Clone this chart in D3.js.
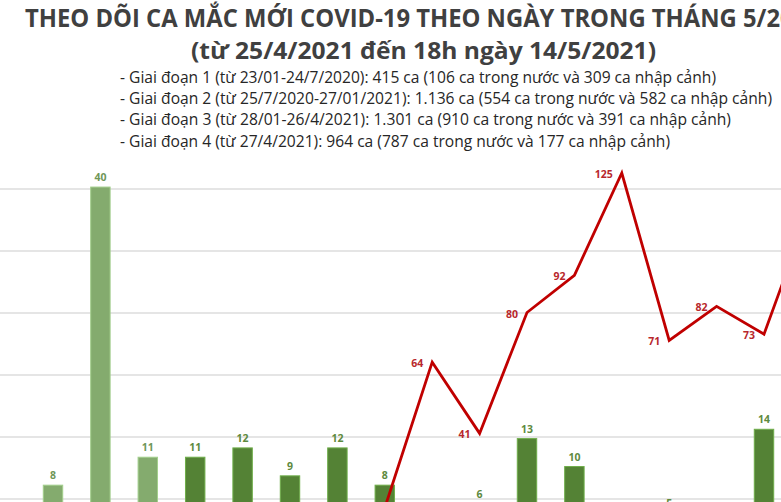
<!DOCTYPE html>
<html>
<head>
<meta charset="utf-8">
<script src="https://cdn.jsdelivr.net/npm/d3@7"></script>
<style>
html,body{margin:0;padding:0;background:#fff;overflow:hidden;}
svg{display:block;}
</style>
</head>
<body>
<svg id="chart" width="781" height="502"></svg>
<script>
// ---- data ----
const titleLines = ["THEO DÕI CA MẮC MỚI COVID-19 THEO NGÀY TRONG THÁNG 5/2021", "(từ 25/4/2021 đến 18h ngày 14/5/2021)"];
const legendLines = [
  "- Giai đoạn 1 (từ 23/01-24/7/2020): 415 ca (106 ca trong nước và 309 ca nhập cảnh)",
  "- Giai đoạn 2 (từ 25/7/2020-27/01/2021): 1.136 ca (554 ca trong nước và 582 ca nhập cảnh)",
  "- Giai đoạn 3 (từ 28/01-26/4/2021): 1.301 ca (910 ca trong nước và 391 ca nhập cảnh)",
  "- Giai đoạn 4 (từ 27/4/2021): 964 ca (787 ca trong nước và 177 ca nhập cảnh)"
];
const dates = ["27/4","28/4","29/4","30/4","1/5","2/5","3/5","4/5","5/5","6/5","7/5","8/5","9/5","10/5","11/5","12/5","13/5"];
// imported cases (bars)
const importedCases = [8, 40, 11, 11, 12, 9, 12, 8, 4, 6, 13, 10, 2, 5, 3, 14, null];
// domestic cases (line)
const domesticCases = [null, null, null, null, null, null, null, 17, 64, 41, 80, 92, 125, 71, 82, 73, 115];
const lightBarCount = 3;
const gridTicks = [0, 20, 40, 60, 80, 100, 120];

// ---- layout ----
const svg = d3.select("#chart");
const yZero = 560.5, yTop = 126.5;

const x = d3.scaleBand().domain(dates).range([29.3, 835.1]).paddingInner(0.59).paddingOuter(0.295);
const yLine = d3.scaleLinear().domain([0, 140]).range([yZero, yTop]);
const yBar = d3.scaleLinear().domain([0, 46.5]).range([yZero - 0.8, yTop]);

// gridlines
const grid = d3.axisLeft(yLine).tickValues(gridTicks).tickSize(-900).tickFormat("");
svg.append("g").attr("transform", "translate(-10,0)").call(grid)
  .call(g => g.select(".domain").remove())
  .call(g => g.selectAll("line").attr("stroke", "#dcdcdc").attr("stroke-width", 1.5));

// x axis baseline (below visible area)
svg.append("g").attr("transform", `translate(0,${yZero})`)
  .call(d3.axisBottom(x).tickSize(0).tickFormat(""))
  .call(g => g.select(".domain").attr("stroke", "#d0d0d0"));

// bars
const barData = dates.map((d, i) => ({d, v: importedCases[i], i})).filter(e => e.v != null);
svg.append("g").selectAll("rect").data(barData).join("rect")
  .attr("x", e => x(e.d))
  .attr("width", x.bandwidth())
  .attr("y", e => yBar(e.v))
  .attr("height", e => yBar(0) - yBar(e.v))
  .attr("fill", e => e.i < lightBarCount ? "#84ab6e" : "#548235")
  .attr("stroke", e => e.i < lightBarCount ? "#a3cf8c" : "#6fae4a")
  .attr("stroke-width", 1);

svg.append("g").selectAll("text").data(barData).join("text")
  .attr("x", e => x(e.d) + x.bandwidth() / 2)
  .attr("y", e => yBar(e.v) - 6)
  .attr("text-anchor", "middle")
  .attr("font-family", "Open Sans, sans-serif")
  .attr("font-weight", "bold")
  .attr("font-size", 10.5)
  .attr("fill", e => e.i < lightBarCount ? "#6f9658" : "#5e8a3e")
  .text(e => e.v);

// line
const lineData = dates.map((d, i) => ({d, v: domesticCases[i]})).filter(e => e.v != null);
const line = d3.line().x(e => x(e.d) + x.bandwidth() / 2).y(e => yLine(e.v));
svg.append("path").datum(lineData)
  .attr("d", line)
  .attr("fill", "none")
  .attr("stroke", "#c00000")
  .attr("stroke-width", 2.8)
  .attr("stroke-linejoin", "miter");

svg.append("g").selectAll("text").data(lineData).join("text")
  .attr("x", e => x(e.d) + x.bandwidth() / 2 - 9)
  .attr("y", e => yLine(e.v) + 5)
  .attr("text-anchor", "end")
  .attr("font-family", "Open Sans, sans-serif")
  .attr("font-weight", "bold")
  .attr("font-size", 10.5)
  .attr("fill", "#b8272c")
  .text(e => e.v);

// title
function measure(str, attrs) {
  const t = svg.append("text").text(str);
  Object.entries(attrs).forEach(([k, v]) => t.attr(k, v));
  const w = t.node().getComputedTextLength();
  t.remove();
  return w;
}
const titleAttrs = {"font-family": "Open Sans, sans-serif", "font-weight": "bold", "font-size": 24.5};
const fullW = measure(titleLines[0], titleAttrs);
const prefW = measure("THEO DÕI CA MẮC MỚI COVID-19 THEO NGÀY TRONG THÁNG 5/2", titleAttrs);
const sc = (780 - 25) / prefW;

svg.append("text").attr("x", 25).attr("y", 26.7)
  .attr("font-family", titleAttrs["font-family"]).attr("font-weight", "bold").attr("font-size", 24.5)
  .attr("fill", "#404040")
  .attr("textLength", fullW * sc).attr("lengthAdjust", "spacingAndGlyphs")
  .text(titleLines[0]);

svg.append("text").attr("x", 191).attr("y", 59.3)
  .attr("font-family", titleAttrs["font-family"]).attr("font-weight", "bold").attr("font-size", 24)
  .attr("fill", "#404040")
  .attr("textLength", 465).attr("lengthAdjust", "spacingAndGlyphs")
  .text(titleLines[1]);

// legend / notes
const legendEnds = [716, 772, 731, 670];
const legendBaselines = [82.7, 104, 125.3, 146.7];
legendLines.forEach((s, i) => {
  svg.append("text").attr("x", 120).attr("y", legendBaselines[i])
    .attr("font-family", "Open Sans, sans-serif").attr("font-size", 15.5)
    .attr("fill", "#262626")
    .attr("textLength", legendEnds[i] - 120).attr("lengthAdjust", "spacingAndGlyphs")
    .text(s);
});
</script>
</body>
</html>
